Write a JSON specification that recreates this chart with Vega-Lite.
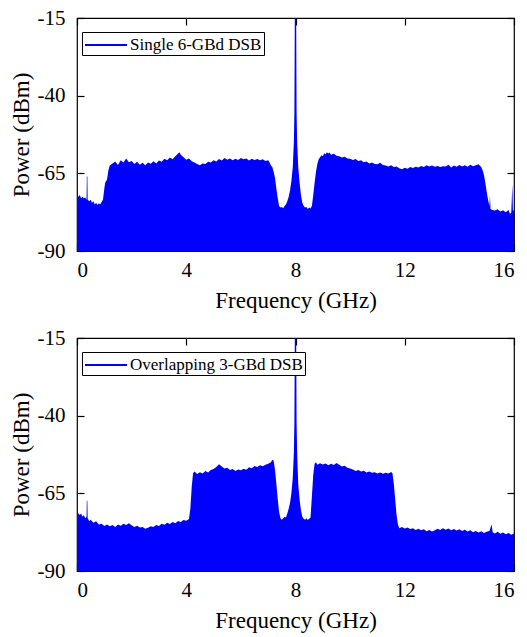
{
  "$schema": "https://vega.github.io/schema/vega-lite/v6.json",
  "background": "white",
  "padding": {"left": 9, "top": 6, "right": 5, "bottom": 5},
  "spacing": 13,
  "config": {
    "font": "Liberation Serif",
    "style": {
      "guide-label": {"font": "Liberation Serif", "fontSize": 21, "fill": "black"},
      "guide-title": {"font": "Liberation Serif", "fontSize": 23, "fill": "black", "fontWeight": "normal"}
    },
    "view": {"stroke": "black", "strokeWidth": 1.2},
    "axis": {
      "domain": false,
      "grid": false,
      "tickColor": "black",
      "tickSize": -7,
      "tickWidth": 1.2,
      "labelFont": "Liberation Serif",
      "labelFontSize": 21,
      "labelColor": "black",
      "labelExpr": "'' + datum.value",
      "titleFont": "Liberation Serif",
      "titleFontSize": 23,
      "titleFontWeight": "normal",
      "titleColor": "black"
    },
    "legend": {
      "orient": "none",
      "legendX": 5,
      "legendY": 14,
      "title": null,
      "symbolType": "M-1,0H3.2",
      "symbolSize": 400,
      "symbolStrokeWidth": 2,
      "symbolStrokeColor": "#0000ff",
      "symbolFillColor": "transparent",
      "labelFont": "Liberation Serif",
      "labelFontSize": 17,
      "labelLimit": 400,
      "labelColor": "black",
      "labelOffset": 24,
      "strokeColor": "black",
      "fillColor": "white",
      "padding": 2
    }
  },
  "resolve": {"scale": {"color": "independent"}},
  "datasets": {
    "top": [
      {"f":0.0,"p":-57},{"f":0.01,"p":-72},{"f":0.05,"p":-72.5},{"f":0.1,"p":-72},{"f":0.15,"p":-73},{"f":0.2,"p":-72.5},{"f":0.25,"p":-73},{"f":0.3,"p":-72.8},{"f":0.35,"p":-73.5},{"f":0.36,"p":-66},{"f":0.38,"p":-66},{"f":0.39,"p":-73.5},{"f":0.45,"p":-74},{"f":0.5,"p":-73.5},{"f":0.55,"p":-74.5},{"f":0.6,"p":-74},{"f":0.65,"p":-75},{"f":0.7,"p":-74.5},{"f":0.75,"p":-75.2},{"f":0.8,"p":-74.6},{"f":0.85,"p":-75},{"f":0.9,"p":-74.2},{"f":0.95,"p":-73.5},{"f":1.0,"p":-70},{"f":1.03,"p":-68},{"f":1.1,"p":-67},{"f":1.15,"p":-64},{"f":1.2,"p":-62.5},
      {"f":1.3,"p":-61.8},{"f":1.4,"p":-61.2},{"f":1.5,"p":-62.3},{"f":1.6,"p":-60.8},{"f":1.7,"p":-61.5},{"f":1.8,"p":-60.2},{"f":1.9,"p":-61.4},{"f":2.0,"p":-61},{"f":2.1,"p":-62},{"f":2.2,"p":-61.3},{"f":2.3,"p":-62.2},{"f":2.4,"p":-61.6},{"f":2.5,"p":-62.4},{"f":2.6,"p":-61.5},{"f":2.7,"p":-61.9},{"f":2.8,"p":-61.1},{"f":2.9,"p":-61.8},{"f":3.0,"p":-60.9},{"f":3.1,"p":-61.3},{"f":3.2,"p":-60.3},{"f":3.3,"p":-60.8},{"f":3.4,"p":-59.9},{"f":3.5,"p":-60.5},{"f":3.6,"p":-59.5},{"f":3.7,"p":-58.6},{"f":3.75,"p":-58.2},{"f":3.8,"p":-59},{"f":3.9,"p":-59.8},{"f":4.0,"p":-60.6},{"f":4.1,"p":-60.2},{"f":4.2,"p":-61.1},{"f":4.3,"p":-61.5},{"f":4.4,"p":-62},{"f":4.5,"p":-62.4},{"f":4.6,"p":-61.8},{"f":4.7,"p":-62},{"f":4.8,"p":-61.3},{"f":4.9,"p":-61.5},{"f":5.0,"p":-60.8},{"f":5.1,"p":-61.2},{"f":5.2,"p":-60.4},{"f":5.3,"p":-60.9},{"f":5.4,"p":-60.1},{"f":5.5,"p":-60.6},{"f":5.6,"p":-60.2},{"f":5.7,"p":-60.8},{"f":5.8,"p":-60.3},{"f":5.9,"p":-60.7},{"f":6.0,"p":-60.1},{"f":6.1,"p":-60.5},{"f":6.2,"p":-60.2},{"f":6.3,"p":-60.9},{"f":6.4,"p":-60.3},{"f":6.5,"p":-60.7},{"f":6.6,"p":-60.4},{"f":6.7,"p":-60.8},{"f":6.8,"p":-60.5},{"f":6.9,"p":-61},{"f":7.0,"p":-60.8},{"f":7.05,"p":-61.5},{"f":7.1,"p":-62.5},{"f":7.15,"p":-63},{"f":7.2,"p":-64.5},{"f":7.25,"p":-66.5},{"f":7.3,"p":-70},{"f":7.35,"p":-73},{"f":7.4,"p":-75.5},{"f":7.45,"p":-76},{"f":7.5,"p":-75.8},{"f":7.55,"p":-76.2},{"f":7.6,"p":-75.5},{"f":7.65,"p":-75},{"f":7.7,"p":-74},{"f":7.75,"p":-72.5},{"f":7.8,"p":-70.5},{"f":7.85,"p":-67.5},{"f":7.9,"p":-63},{"f":7.94,"p":-55},{"f":7.96,"p":-45},{"f":7.975,"p":-15},{"f":8.025,"p":-15},{"f":8.04,"p":-45},{"f":8.06,"p":-55},{"f":8.1,"p":-63},{"f":8.15,"p":-68},{"f":8.2,"p":-72},{"f":8.25,"p":-74.5},{"f":8.3,"p":-75.5},{"f":8.35,"p":-76},{"f":8.4,"p":-75.8},{"f":8.45,"p":-76.5},{"f":8.5,"p":-76},{"f":8.55,"p":-76.3},{"f":8.6,"p":-75.5},{"f":8.65,"p":-72},{"f":8.7,"p":-68},{"f":8.75,"p":-64.5},{"f":8.8,"p":-62},{"f":8.85,"p":-60.5},{"f":8.9,"p":-59.8},{"f":8.95,"p":-59.2},{"f":9.0,"p":-59.5},{"f":9.05,"p":-58.5},{"f":9.1,"p":-58.9},{"f":9.15,"p":-58.2},{"f":9.2,"p":-58.6},{"f":9.25,"p":-58.3},{"f":9.3,"p":-59},{"f":9.4,"p":-58.7},{"f":9.5,"p":-59.3},{"f":9.6,"p":-59.5},{"f":9.7,"p":-59.9},{"f":9.8,"p":-59.7},{"f":9.9,"p":-60.2},{"f":10.0,"p":-60.3},{"f":10.1,"p":-60.7},{"f":10.2,"p":-60.4},{"f":10.3,"p":-61},{"f":10.4,"p":-60.8},{"f":10.5,"p":-61.4},{"f":10.6,"p":-61.2},{"f":10.7,"p":-61.8},{"f":10.8,"p":-61.5},{"f":10.9,"p":-62},{"f":11.0,"p":-62.1},{"f":11.1,"p":-61.6},{"f":11.2,"p":-62.3},{"f":11.3,"p":-62.5},{"f":11.4,"p":-62.8},{"f":11.5,"p":-62.4},{"f":11.6,"p":-63},{"f":11.7,"p":-62.8},{"f":11.8,"p":-63.4},{"f":11.9,"p":-63.7},{"f":12.0,"p":-63.2},{"f":12.1,"p":-63.5},{"f":12.2,"p":-63},{"f":12.3,"p":-63.3},{"f":12.4,"p":-62.9},{"f":12.5,"p":-63.1},{"f":12.6,"p":-62.6},{"f":12.7,"p":-63},{"f":12.8,"p":-62.4},{"f":12.9,"p":-62.8},{"f":13.0,"p":-62.5},{"f":13.1,"p":-62.9},{"f":13.2,"p":-62.6},{"f":13.3,"p":-63},{"f":13.4,"p":-62.7},{"f":13.5,"p":-62.8},{"f":13.6,"p":-62.2},{"f":13.7,"p":-63.1},{"f":13.8,"p":-62.5},{"f":13.9,"p":-62.9},{"f":14.0,"p":-62.3},{"f":14.1,"p":-62.8},{"f":14.2,"p":-62.4},{"f":14.3,"p":-62.9},{"f":14.4,"p":-62.2},{"f":14.5,"p":-62.7},{"f":14.6,"p":-62.4},{"f":14.7,"p":-62.1},{"f":14.8,"p":-63},{"f":14.85,"p":-64},{"f":14.9,"p":-65.5},{"f":14.95,"p":-68},{"f":15.0,"p":-71},{"f":15.05,"p":-73.5},{"f":15.1,"p":-75.5},{"f":15.12,"p":-72},{"f":15.14,"p":-76.5},{"f":15.2,"p":-76.8},{"f":15.3,"p":-77},{"f":15.4,"p":-76.6},{"f":15.5,"p":-77.3},{"f":15.6,"p":-76.9},{"f":15.7,"p":-77.5},{"f":15.8,"p":-76.8},{"f":15.85,"p":-78},{"f":15.9,"p":-77.6},{"f":15.94,"p":-68.5},{"f":15.96,"p":-77},{"f":16.0,"p":-77}
    ],
    "bottom": [
      {"f":0.0,"p":-59.3},{"f":0.01,"p":-71},{"f":0.05,"p":-71.5},{"f":0.1,"p":-72},{"f":0.15,"p":-71.5},{"f":0.2,"p":-72.5},{"f":0.25,"p":-72},{"f":0.3,"p":-73},{"f":0.35,"p":-72.5},{"f":0.36,"p":-67.4},{"f":0.38,"p":-67.4},{"f":0.39,"p":-73},{"f":0.45,"p":-74},{"f":0.5,"p":-73.5},{"f":0.6,"p":-74.5},{"f":0.7,"p":-74},{"f":0.8,"p":-75},{"f":0.9,"p":-74.8},{"f":1.0,"p":-75.5},{"f":1.1,"p":-75},{"f":1.2,"p":-75.6},{"f":1.3,"p":-75.2},{"f":1.4,"p":-75.8},{"f":1.5,"p":-75},{"f":1.6,"p":-75.4},{"f":1.7,"p":-74.8},{"f":1.8,"p":-75.2},{"f":1.9,"p":-74.6},{"f":2.0,"p":-75.3},{"f":2.1,"p":-75.8},{"f":2.2,"p":-75.4},{"f":2.3,"p":-76},{"f":2.4,"p":-75.8},{"f":2.5,"p":-76.4},{"f":2.6,"p":-76.1},{"f":2.7,"p":-75.6},{"f":2.8,"p":-75.8},{"f":2.9,"p":-75.2},{"f":3.0,"p":-75.5},{"f":3.1,"p":-74.8},{"f":3.2,"p":-75.1},{"f":3.3,"p":-74.5},{"f":3.4,"p":-74.9},{"f":3.5,"p":-74.2},{"f":3.6,"p":-74.6},{"f":3.7,"p":-73.9},{"f":3.8,"p":-74.2},{"f":3.9,"p":-73.6},{"f":4.0,"p":-73.8},{"f":4.1,"p":-73.3},{"f":4.15,"p":-70},{"f":4.2,"p":-63},{"f":4.25,"p":-58.5},{"f":4.3,"p":-58},{"f":4.4,"p":-58.8},{"f":4.5,"p":-58.2},{"f":4.6,"p":-58.6},{"f":4.7,"p":-57.8},{"f":4.8,"p":-58.3},{"f":4.9,"p":-57.5},{"f":5.0,"p":-57.2},{"f":5.1,"p":-56.5},{"f":5.2,"p":-55.6},{"f":5.3,"p":-56.4},{"f":5.4,"p":-57},{"f":5.5,"p":-56.8},{"f":5.6,"p":-57.5},{"f":5.7,"p":-57.2},{"f":5.8,"p":-57.8},{"f":5.9,"p":-57.3},{"f":6.0,"p":-57.6},{"f":6.1,"p":-57.1},{"f":6.2,"p":-57.4},{"f":6.3,"p":-56.6},{"f":6.4,"p":-56.9},{"f":6.5,"p":-56.2},{"f":6.6,"p":-56.5},{"f":6.7,"p":-56},{"f":6.8,"p":-56.3},{"f":6.9,"p":-55.8},{"f":7.0,"p":-55.5},{"f":7.1,"p":-55},{"f":7.15,"p":-54.2},{"f":7.2,"p":-54.5},{"f":7.25,"p":-57.5},{"f":7.3,"p":-62},{"f":7.35,"p":-67},{"f":7.4,"p":-71},{"f":7.45,"p":-73},{"f":7.5,"p":-73.5},{"f":7.55,"p":-73},{"f":7.6,"p":-72.5},{"f":7.65,"p":-72.8},{"f":7.7,"p":-71.5},{"f":7.75,"p":-70},{"f":7.8,"p":-68},{"f":7.85,"p":-65},{"f":7.9,"p":-60},{"f":7.94,"p":-52},{"f":7.96,"p":-42},{"f":7.975,"p":-15},{"f":8.025,"p":-15},{"f":8.04,"p":-42},{"f":8.06,"p":-52},{"f":8.1,"p":-62},{"f":8.15,"p":-67},{"f":8.2,"p":-70.5},{"f":8.25,"p":-72.5},{"f":8.3,"p":-73.2},{"f":8.35,"p":-73.5},{"f":8.4,"p":-73},{"f":8.45,"p":-73.6},{"f":8.5,"p":-73.2},{"f":8.55,"p":-72.8},{"f":8.6,"p":-66},{"f":8.65,"p":-59},{"f":8.7,"p":-55.5},{"f":8.75,"p":-55},{"f":8.8,"p":-55.8},{"f":8.9,"p":-55.3},{"f":9.0,"p":-55.7},{"f":9.1,"p":-55.4},{"f":9.2,"p":-56},{"f":9.3,"p":-55.5},{"f":9.4,"p":-55.9},{"f":9.5,"p":-55.2},{"f":9.6,"p":-55.8},{"f":9.7,"p":-56.4},{"f":9.8,"p":-56.1},{"f":9.9,"p":-56.8},{"f":10.0,"p":-57},{"f":10.1,"p":-57.3},{"f":10.2,"p":-57.8},{"f":10.3,"p":-57.5},{"f":10.4,"p":-58},{"f":10.5,"p":-57.7},{"f":10.6,"p":-58.3},{"f":10.7,"p":-58},{"f":10.8,"p":-58.4},{"f":10.9,"p":-58.2},{"f":11.0,"p":-58.6},{"f":11.1,"p":-58.3},{"f":11.2,"p":-58.7},{"f":11.3,"p":-58.4},{"f":11.4,"p":-58.6},{"f":11.5,"p":-58.1},{"f":11.55,"p":-58.5},{"f":11.6,"p":-62},{"f":11.65,"p":-67},{"f":11.7,"p":-72},{"f":11.75,"p":-75},{"f":11.8,"p":-76.2},{"f":11.9,"p":-75.8},{"f":12.0,"p":-76.3},{"f":12.1,"p":-76},{"f":12.2,"p":-76.5},{"f":12.3,"p":-76.2},{"f":12.4,"p":-76.8},{"f":12.5,"p":-76.4},{"f":12.6,"p":-76.9},{"f":12.7,"p":-76.6},{"f":12.8,"p":-77.2},{"f":12.9,"p":-76.8},{"f":13.0,"p":-77.3},{"f":13.1,"p":-76.9},{"f":13.2,"p":-76.4},{"f":13.3,"p":-76.8},{"f":13.4,"p":-76.2},{"f":13.5,"p":-76.7},{"f":13.6,"p":-76.3},{"f":13.7,"p":-76.9},{"f":13.8,"p":-76.5},{"f":13.9,"p":-77},{"f":14.0,"p":-76.6},{"f":14.1,"p":-77.1},{"f":14.2,"p":-76.7},{"f":14.3,"p":-77.3},{"f":14.4,"p":-76.9},{"f":14.5,"p":-77.5},{"f":14.6,"p":-77.1},{"f":14.7,"p":-77.6},{"f":14.8,"p":-77.2},{"f":14.9,"p":-77.8},{"f":15.0,"p":-77.4},{"f":15.1,"p":-77.1},{"f":15.18,"p":-75},{"f":15.22,"p":-77.5},{"f":15.3,"p":-77.9},{"f":15.4,"p":-77.4},{"f":15.5,"p":-78},{"f":15.6,"p":-77.6},{"f":15.7,"p":-78.2},{"f":15.8,"p":-77.8},{"f":15.9,"p":-78.3},{"f":16.0,"p":-77.9}
    ]
  },
  "vconcat": [
    {
      "width": 437,
      "height": 233,
      "data": {"name": "top"},
      "resolve": {"axis": {"x": "independent", "y": "independent"}},
      "layer": [
        {
          "mark": {"type": "area", "clip": true, "interpolate": "linear"},
          "encoding": {
            "x": {"field": "f", "type": "quantitative", "scale": {"domain": [0, 16], "nice": false},
                  "axis": {"values": [0, 4, 8, 12, 16], "title": "Frequency (GHz)", "labelFont": "Liberation Serif", "titleFont": "Liberation Serif", "labelPadding": 15, "titlePadding": 9}},
            "y": {"field": "p", "type": "quantitative", "scale": {"domain": [-90, -15], "nice": false, "zero": false},
                  "axis": {"values": [-90, -65, -40, -15], "title": "Power (dBm)", "labelFont": "Liberation Serif", "titleFont": "Liberation Serif", "labelPadding": 19, "titlePadding": 4}},
            "y2": {"datum": -90},
            "color": {"datum": "Single 6-GBd DSB", "type": "nominal", "scale": {"range": ["#0000ff"]}}
          }
        },
        {
          "mark": {"type": "area", "opacity": 0, "clip": true},
          "encoding": {
            "x": {"field": "f", "type": "quantitative", "axis": {"orient": "top", "values": [0, 4, 8, 12, 16], "labels": false, "title": null}},
            "y": {"field": "p", "type": "quantitative", "axis": {"orient": "right", "values": [-90, -65, -40, -15], "labels": false, "title": null}},
            "y2": {"datum": -90}
          }
        }
      ]
    },
    {
      "width": 437,
      "height": 233,
      "data": {"name": "bottom"},
      "resolve": {"axis": {"x": "independent", "y": "independent"}},
      "layer": [
        {
          "mark": {"type": "area", "clip": true, "interpolate": "linear"},
          "encoding": {
            "x": {"field": "f", "type": "quantitative", "scale": {"domain": [0, 16], "nice": false},
                  "axis": {"values": [0, 4, 8, 12, 16], "title": "Frequency (GHz)", "labelFont": "Liberation Serif", "titleFont": "Liberation Serif", "labelPadding": 15, "titlePadding": 9}},
            "y": {"field": "p", "type": "quantitative", "scale": {"domain": [-90, -15], "nice": false, "zero": false},
                  "axis": {"values": [-90, -65, -40, -15], "title": "Power (dBm)", "labelFont": "Liberation Serif", "titleFont": "Liberation Serif", "labelPadding": 19, "titlePadding": 4}},
            "y2": {"datum": -90},
            "color": {"datum": "Overlapping 3-GBd DSB", "type": "nominal", "scale": {"range": ["#0000ff"]}}
          }
        },
        {
          "mark": {"type": "area", "opacity": 0, "clip": true},
          "encoding": {
            "x": {"field": "f", "type": "quantitative", "axis": {"orient": "top", "values": [0, 4, 8, 12, 16], "labels": false, "title": null}},
            "y": {"field": "p", "type": "quantitative", "axis": {"orient": "right", "values": [-90, -65, -40, -15], "labels": false, "title": null}},
            "y2": {"datum": -90}
          }
        }
      ]
    }
  ]
}
